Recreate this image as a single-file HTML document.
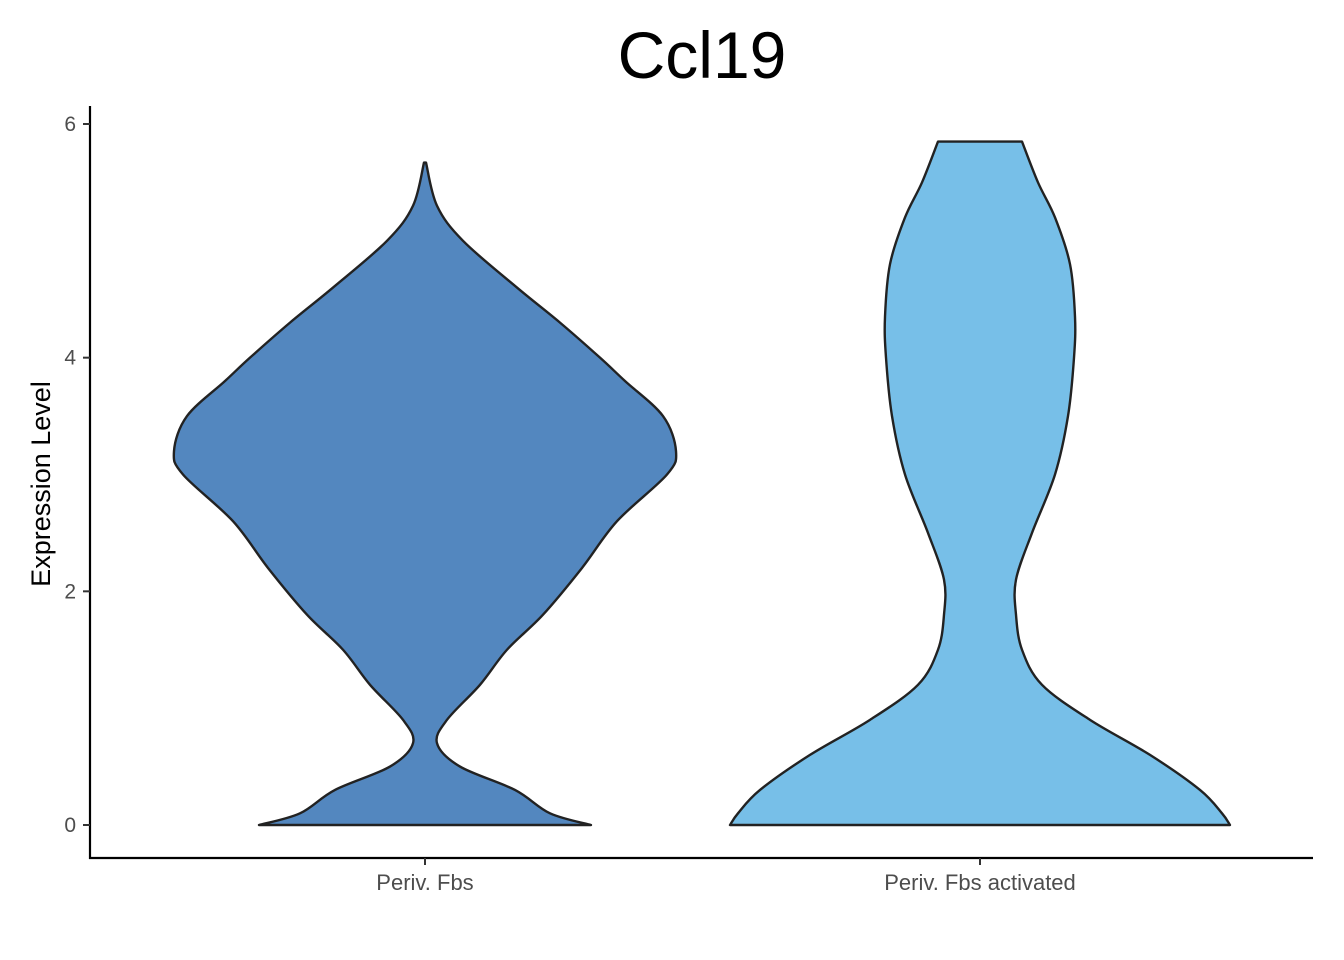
<!DOCTYPE html>
<html><head><meta charset="utf-8"><style>
body{margin:0;background:#fff;}
svg{display:block;font-family:"Liberation Sans",Arial,sans-serif;}
</style></head><body>
<svg id="chart" width="1344" height="960" viewBox="0 0 1344 960">
<text x="702" y="78" font-size="66" text-anchor="middle" fill="#000">Ccl19</text>
<g id="violins"></g>
<g id="axes"></g>
<text transform="translate(50,484) rotate(-90)" font-size="27" text-anchor="middle" fill="#000">Expression Level</text>
</svg>
<script>
const categories = ["Periv. Fbs", "Periv. Fbs activated"];
const colors = ["#5387BF", "#77BFE8"];
const yTicks = [0, 2, 4, 6];
// violin profiles: expression value and relative half-width (density)
const fbsY = [0, 0.1, 0.3, 0.5, 0.7, 0.9, 1.2, 1.5, 1.8, 2.2, 2.6, 3.0, 3.2, 3.5, 3.8, 4.0, 4.3, 4.6, 5.0, 5.3, 5.67];
const fbsW = [166, 125, 90, 35, 12, 22, 55, 82, 118, 157, 192, 242, 251, 238, 200, 175, 135, 92, 38, 12, 1];
const actY = [0, 0.1, 0.3, 0.6, 0.9, 1.2, 1.5, 1.8, 2.1, 2.5, 3.0, 3.5, 4.0, 4.35, 4.8, 5.2, 5.5, 5.85];
const actW = [250, 242, 220, 170, 110, 62, 42, 36, 36, 52, 75, 88, 94, 95, 90, 75, 58, 42];

const y0 = 825, pxPerUnit = (825 - 124) / 6;
function yScale(v) { return y0 - v * pxPerUnit; }
const xCenters = [425, 980];
function xScale(i) { return xCenters[i]; }
const maxW = 251;

function smoothPath(pts) {
  let d = "M" + pts[0][0] + "," + pts[0][1];
  for (let i = 0; i < pts.length - 1; i++) {
    const p0 = pts[Math.max(0, i - 1)], p1 = pts[i], p2 = pts[i + 1], p3 = pts[Math.min(pts.length - 1, i + 2)];
    const c1 = [p1[0] + (p2[0] - p0[0]) / 6, p1[1] + (p2[1] - p0[1]) / 6];
    const c2 = [p2[0] - (p3[0] - p1[0]) / 6, p2[1] - (p3[1] - p1[1]) / 6];
    d += " C" + c1[0] + "," + c1[1] + " " + c2[0] + "," + c2[1] + " " + p2[0] + "," + p2[1];
  }
  return d;
}
const NS = "http://www.w3.org/2000/svg";
const vg = document.getElementById("violins");
const profiles = [[fbsY, fbsW], [actY, actW]];
const wMax = Math.max(...fbsW, ...actW);
profiles.forEach(([ys, ws], i) => {
  const cx = xScale(i);
  const right = ys.map((v, k) => [cx + ws[k] / wMax * maxW, yScale(v)]);
  const left = ys.map((v, k) => [cx - ws[k] / wMax * maxW, yScale(v)]).reverse();
  let d = smoothPath(right);
  d += " L" + left[0][0] + "," + left[0][1];
  d += smoothPath(left).replace(/^M[^ ]+/, "");
  d += " Z";
  const p = document.createElementNS(NS, "path");
  p.setAttribute("d", d);
  p.setAttribute("fill", colors[i]);
  p.setAttribute("stroke", "#222");
  p.setAttribute("stroke-width", "2.4");
  p.setAttribute("stroke-linejoin", "round");
  
  
  vg.appendChild(p);
});
const ag = document.getElementById("axes");
function add(tag, attrs, text) {
  const e = document.createElementNS(NS, tag);
  for (const k in attrs) e.setAttribute(k, attrs[k]);
  if (text !== undefined) e.textContent = text;
  ag.appendChild(e);
  return e;
}
const yl = add("line", {x1: 90, y1: 106, x2: 90, y2: 859, stroke: "#000", "stroke-width": 2.2});


const xl = add("line", {x1: 89, y1: 858, x2: 1313, y2: 858, stroke: "#000", "stroke-width": 2.2});


yTicks.forEach(t => {
  const y = yScale(t);
  const tk = add("line", {x1: 83, y1: y, x2: 90, y2: y, stroke: "#333", "stroke-width": 2});
  
  
  const lb = add("text", {x: 76, y: y + 7, "font-size": 21, "text-anchor": "end", fill: "#4d4d4d"}, String(t));
  
  
});
categories.forEach((c, i) => {
  const x = xScale(i);
  const tk = add("line", {x1: x, y1: 858, x2: x, y2: 865, stroke: "#333", "stroke-width": 2});
  
  
  const lb = add("text", {x: x, y: 890, "font-size": 22, "text-anchor": "middle", fill: "#4d4d4d"}, c);
  
  
});
</script>
</body></html>
